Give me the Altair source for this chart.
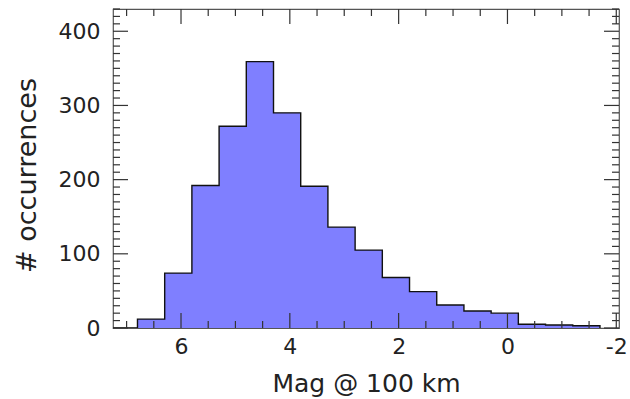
import altair as alt
import pandas as pd

# Histogram of magnitudes at 100 km: bin edges (descending) and counts per bin
bin_edges = [7.3, 6.8, 6.3, 5.8, 5.3, 4.8, 4.3, 3.8, 3.3, 2.8, 2.3,
             1.8, 1.3, 0.8, 0.3, -0.2, -0.7, -1.2, -1.7]
counts = [0, 12, 74, 192, 272, 359, 290, 191, 136, 105, 68,
          49, 31, 23, 20, 5, 4, 3]

# Axis ticks
x_major = [6, 4, 2, 0, -2]
x_minor = [7, 6.5, 5.5, 5, 4.5, 3.5, 3, 2.5, 1.5, 1, 0.5, -0.5, -1, -1.5]
y_major = [0, 100, 200, 300, 400]
y_minor = [v for v in range(10, 431, 10) if v % 100 != 0]

W, H = 506, 319
MAJ, MIN = 15, 7
FONT = "DejaVu Sans"
TICK_COLOR = "#333333"

# step outline: each bin's left edge carries its count, closed at the last edge
step = pd.DataFrame({
    "mag": bin_edges,
    "n": counts + [0],
})

xscale = alt.Scale(domain=[-2.05, 7.25], reverse=True, nice=False, zero=False)
yscale = alt.Scale(domain=[0, 430], nice=False, zero=True)

x_axis = alt.Axis(values=x_major, ticks=False, tickSize=0, domain=False, grid=False,
                  labelFont=FONT, labelFontSize=22, labelColor="#222222",
                  labelPadding=8, labelExpr="datum.value < 0 ? '-' + abs(datum.value) : datum.label",
                  title="Mag @ 100 km", titleFont=FONT, titleFontSize=25,
                  titleFontWeight="normal", titleColor="#222222",
                  titleBaseline="alphabetic", titleY=63)
y_axis = alt.Axis(values=y_major, ticks=False, tickSize=0, domain=False, grid=False,
                  labelFont=FONT, labelFontSize=22, labelColor="#222222",
                  labelPadding=13,
                  title="# occurrences", titleFont=FONT, titleFontSize=27,
                  titleFontWeight="normal", titleColor="#222222",
                  titleAngle=270, titleBaseline="alphabetic", titleAlign="center",
                  titleX=-78, titleY=166)

area = alt.Chart(step).mark_area(
    interpolate="step-after", color="#7f7fff", opacity=1, clip=True
).encode(
    x=alt.X("mag:Q", scale=xscale, axis=x_axis),
    y=alt.Y("n:Q", scale=yscale, axis=y_axis),
)

outline = alt.Chart(step).mark_line(
    interpolate="step-after", color="#111111", strokeWidth=1.4, clip=True
).encode(
    x=alt.X("mag:Q", scale=xscale),
    y=alt.Y("n:Q", scale=yscale),
)


def xticks(values, length):
    df = pd.DataFrame({"v": values})
    base = alt.Chart(df).mark_rule(color=TICK_COLOR, strokeWidth=1.2)
    bottom = base.encode(x=alt.X("v:Q", scale=xscale),
                         y=alt.value(H), y2=alt.value(H - length))
    top = base.encode(x=alt.X("v:Q", scale=xscale),
                      y=alt.value(0), y2=alt.value(length))
    return [bottom, top]


def yticks(values, length):
    df = pd.DataFrame({"v": values})
    base = alt.Chart(df).mark_rule(color=TICK_COLOR, strokeWidth=1.2)
    left = base.encode(y=alt.Y("v:Q", scale=yscale),
                       x=alt.value(0), x2=alt.value(length))
    right = base.encode(y=alt.Y("v:Q", scale=yscale),
                        x=alt.value(W), x2=alt.value(W - length))
    return [left, right]


layers = [area, outline]
layers += xticks(x_major, MAJ) + xticks(x_minor, MIN)
layers += yticks(y_major, MAJ) + yticks(y_minor, MIN)

chart = alt.layer(*layers).properties(
    width=W, height=H,
    autosize=alt.AutoSizeParams(type="none"),
    padding={"left": 113, "top": 9, "right": 11, "bottom": 71},
    background="white",
).configure_view(
    stroke="#555555", strokeWidth=1.2
)

chart.save("out.html", embed_options={"renderer": "svg", "actions": False})
